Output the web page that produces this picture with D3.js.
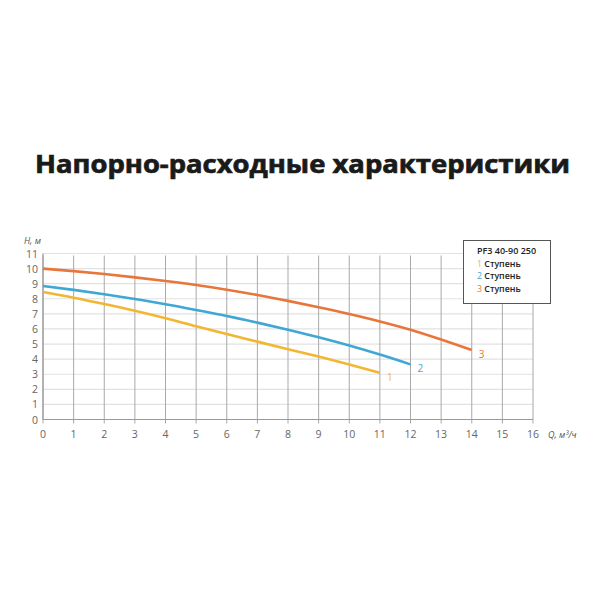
<!DOCTYPE html>
<html>
<head>
<meta charset="utf-8">
<script src="https://cdn.jsdelivr.net/npm/d3@7"></script>
<style>
  body { margin: 0; background: #fff; }
  text { font-family: "Open Sans", "Noto Sans", sans-serif; }
</style>
</head>
<body>
<div id="vis"></div>
<script>
// flow, m3/h
var flow = [0, 1, 2, 3, 4, 5, 6, 7, 8, 9, 10, 11, 12, 13, 14];
// head, m, for each speed
var speed1 = [8.45, 8.07, 7.65, 7.2, 6.71, 6.18, 5.67, 5.16, 4.66, 4.17, 3.65, 3.1];
var speed2 = [8.85, 8.59, 8.3, 7.98, 7.64, 7.26, 6.86, 6.42, 5.95, 5.45, 4.9, 4.3, 3.65];
var speed3 = [10.0, 9.83, 9.64, 9.42, 9.18, 8.91, 8.6, 8.25, 7.86, 7.44, 6.99, 6.5, 5.95, 5.3, 4.6];
var seriesNames = ["1", "2", "3"];
var colors = ["#f2b632", "#3fa7d4", "#e8763a"];
var xTicks = d3.range(0, 17);
var yTicks = d3.range(0, 12);

var svg = d3.select("#vis").append("svg").attr("width", 600).attr("height", 600);

svg.append("text")
    .attr("x", 35).attr("y", 173)
    .attr("textLength", 535).attr("lengthAdjust", "spacingAndGlyphs")
    .style("font-size", "25px").style("font-weight", 700).style("fill", "#1a1a1a")
    .style("stroke", "#1a1a1a").style("stroke-width", 0.7)
    .text("Напорно-расходные характеристики");

var x = d3.scaleLinear().domain([0, 16]).range([43, 533]),
    y = d3.scaleLinear().domain([0, 11]).range([419.5, 253.5]);

var g = svg.append("g");

// horizontal grid
g.selectAll(".hg").data(yTicks).enter().append("line")
    .attr("x1", x(0)).attr("x2", x(16))
    .attr("y1", function(d){ return y(d); }).attr("y2", function(d){ return y(d); })
    .style("stroke", "#e2e2e2").style("stroke-width", 1.2);

// vertical grid
g.selectAll(".vg").data(xTicks).enter().append("line")
    .attr("x1", function(d){ return x(d); }).attr("x2", function(d){ return x(d); })
    .attr("y1", y(11) + 2).attr("y2", y(0) + 4)
    .style("stroke", "#a9a9a9").style("stroke-width", 1);

// axes
g.append("line").attr("x1", x(0)).attr("x2", x(16)).attr("y1", y(0)).attr("y2", y(0))
    .style("stroke", "#9a9a9a").style("stroke-width", 1.2);
g.append("line").attr("x1", x(0)).attr("x2", x(0)).attr("y1", y(11)).attr("y2", y(0))
    .style("stroke", "#9a9a9a").style("stroke-width", 1.2);

g.selectAll(".yl").data(yTicks).enter().append("text")
    .attr("x", 38).attr("y", function(d){ return y(d) + 4; })
    .attr("text-anchor", "end")
    .style("font-size", "10.5px").style("fill", "#666")
    .text(function(d){ return d; });

g.selectAll(".xl").data(xTicks).enter().append("text")
    .attr("x", function(d){ return x(d); }).attr("y", 438)
    .attr("text-anchor", "middle")
    .style("font-size", "10.5px").style("fill", "#666")
    .text(function(d){ return d; });

svg.append("text").attr("x", 24).attr("y", 244)
    .style("font-size", "9px").style("font-style", "italic").style("fill", "#555")
    .text("H, м");
svg.append("text").attr("x", 548).attr("y", 438)
    .style("font-size", "9px").style("font-style", "italic").style("fill", "#555")
    .text("Q, м³/ч");

// curves
var line = d3.line()
    .x(function(d, i){ return x(flow[i]); })
    .y(function(d){ return y(d); })
    .curve(d3.curveMonotoneX);

[speed1, speed2, speed3].forEach(function(s, k){
    svg.append("path").datum(s).attr("d", line)
        .style("fill", "none").style("stroke", colors[k]).style("stroke-width", 2.6);
    var last = s.length - 1;
    svg.append("text")
        .attr("x", x(flow[last]) + 7).attr("y", y(s[last]) + 8)
        .style("font-size", "10px").style("fill", colors[k])
        .text(seriesNames[k]);
});

// legend
var lg = svg.append("g");
lg.append("rect").attr("x", 463.5).attr("y", 240.5).attr("width", 87).attr("height", 63)
    .style("fill", "#fff").style("stroke", "#555").style("stroke-width", 1);
lg.append("text").attr("x", 477).attr("y", 254)
    .style("font-size", "9px").style("font-weight", 600).style("fill", "#222")
    .text("PF3 40-90 250");
seriesNames.forEach(function(n, k){
    var t = lg.append("text").attr("x", 477).attr("y", 266.5 + k * 12.5)
        .style("font-size", "8.8px").style("font-weight", 600);
    t.append("tspan").style("fill", colors[k]).style("font-weight", 400).text(n + " ");
    t.append("tspan").style("fill", "#222").text("Ступень");
});
</script>
</body>
</html>
